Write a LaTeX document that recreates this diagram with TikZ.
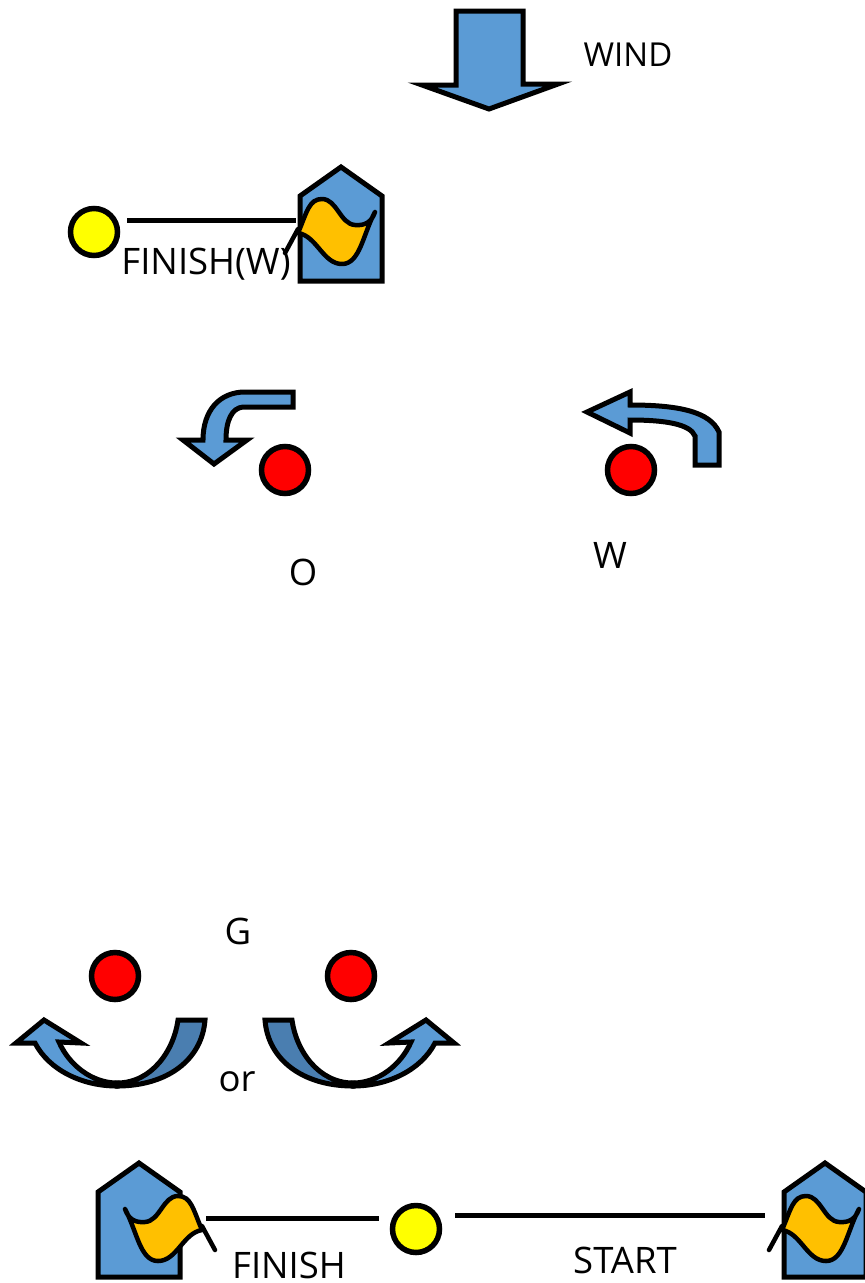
\documentclass[tikz,border=0pt]{standalone}
\usepackage{fontspec}
\setmainfont{Open Sans}
\definecolor{arrowblue}{HTML}{5B9BD5}
\definecolor{arrowdark}{HTML}{4A7EB0}
\definecolor{flagorange}{HTML}{FFC000}
\definecolor{goalyellow}{HTML}{FFFF00}
\tikzset{
  line/.style={draw=black,line width=5pt,line join=miter},
  blue/.style={line,fill=arrowblue},
  dark/.style={line,fill=arrowdark},
  dot/.style={circle,draw=black,line width=5.5pt,inner sep=0pt,minimum size=47pt},
  goal/.style={dot,fill=goalyellow},
  buoy/.style={dot,fill=red},
  word/.style={inner sep=0pt,font=\fontsize{36.5}{36.5}\selectfont},
  pics/house/.style={code={
    \draw[blue] (-41,29) -- (0,0) -- (41,29) -- (41,114) -- (-41,114) -- cycle;
  }},
  % origin is the tip of the flag far from the pole
  pics/flag/.style={code={
    \draw[line,line cap=round,line join=round,line width=4.5pt,fill=flagorange] (0,0)
      .. controls (-3,9) and (-9,14) .. (-20,13)
      .. controls (-35,12) and (-38,-13) .. (-53,-13)
      .. controls (-66,-13) and (-68,0) .. (-77,21)
      .. controls (-58,24) and (-52,52) .. (-33,52)
      .. controls (-15,52) and (-12,22) .. cycle;
    \draw[line,line cap=round,line width=4.5pt] (-77,17) -- (-90,41);
  }},
  pics/uturn/.style={code={
    \draw[dark] (0,1) .. controls (50,1) and (85,-25) .. (88,-65) -- (61,-65)
      .. controls (57,-35) and (35,-2) .. (0,-2) -- cycle;
    \draw[blue] (0,1) .. controls (-35,1) and (-68,-15) .. (-82,-42) -- (-101,-42) -- (-73,-65)
      -- (-36,-42) -- (-58,-43) .. controls (-48,-20) and (-25,-2) .. (0,-2) -- cycle;
  }},
}
\begin{document}
\begin{tikzpicture}[x=1pt,y=-1pt]
\useasboundingbox (0,0) rectangle (865,1283);

% wind
\draw[blue] (456,11) -- (523,11) -- (523,84) -- (558,84) -- (489,109) -- (422,85) -- (456,85) -- cycle;
\node[word,font=\fontsize{33}{33}\selectfont] (wind) at (628,55) {WIND};

% marks
\node[goal] (goalw) at (94,232) {};
\node[goal] (goals) at (416,1229) {};
\foreach \name/\x/\y in {buoyo/285/470,buoyw/631/470,buoya/115/976,buoyb/351/976}
  \node[buoy] (\name) at (\x,\y) {};

% finish (w)
\coordinate (fwa) at (127,220);
\coordinate (fwb) at (296,220);
\draw[line] (fwa) -- (fwb);
\pic at (341,167) {house};
\pic at (375,212) {flag};
\node[word] (finishw) at (206,264) {FINISH(W)};

% turns at the marks
\draw[blue] (293,392) -- (293,407) -- (243,407) .. controls (232,408) and (226,420) .. (226,440)
  -- (247,440) -- (214,464) -- (183,440) -- (203,440) .. controls (203,410) and (220,392) .. (245,392) -- cycle;
\draw[blue] (719,465) -- (695,465) -- (695,436) .. controls (690,424) and (665,420) .. (630,420)
  -- (630,433) -- (587,412) -- (630,392) -- (630,405) .. controls (680,405) and (710,412) .. (719,432) -- cycle;
\node[word] (round) at (303,572) {O};
\node[word] (wing) at (610,555) {W};

% gate
\node[word] (gate) at (238,931) {G};
\pic at (117,1085) {uturn};
\pic[xscale=-1] at (353,1085) {uturn};
\node[word] (or) at (237,1082) {or};

% finish and start
\coordinate (fia) at (206,1218);
\coordinate (fib) at (379,1218);
\coordinate (sta) at (455,1215);
\coordinate (stb) at (765,1215);
\draw[line] (fia) -- (fib);
\draw[line] (sta) -- (stb);
\pic at (139,1163) {house};
\pic[xscale=-1] at (125,1209) {flag};
\pic at (825,1163) {house};
\pic at (859,1209) {flag};
\node[word] (finish) at (289,1265) {FINISH};
\node[word] (start) at (625,1260) {START};
\end{tikzpicture}
\end{document}
